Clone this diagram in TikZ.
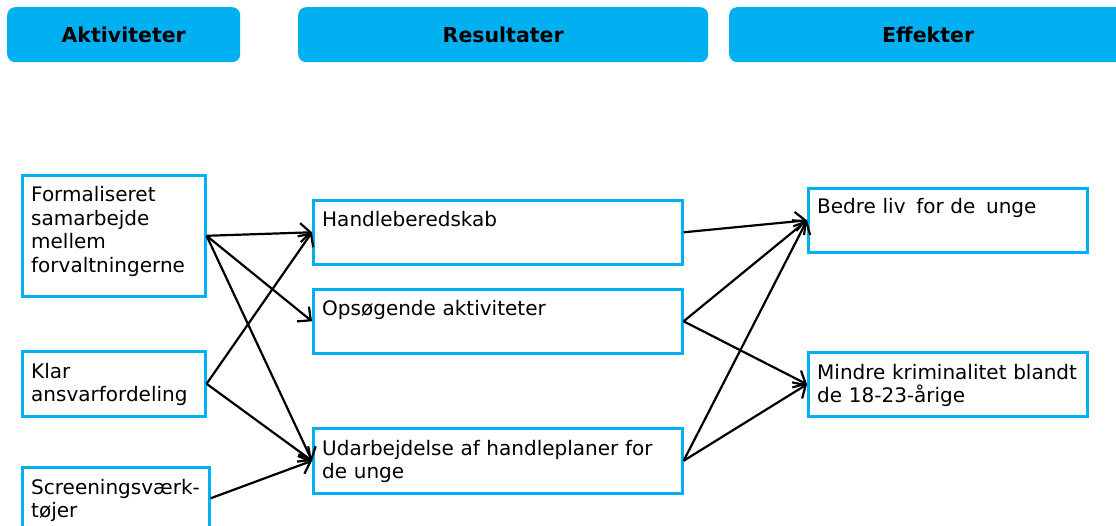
\documentclass[tikz,border=0pt]{standalone}
\usepackage{fontspec}
\setmainfont{DejaVu Sans}
\usetikzlibrary{arrows.meta}
\definecolor{hdr}{HTML}{00B0F0}
\tikzset{
  hdrbox/.style={fill=hdr, draw=none, rounded corners=8pt, anchor=north west, inner sep=0pt},
  hdrtxt/.style={inner sep=0pt, font=\fontsize{20.5}{24}\selectfont\bfseries},
  bx/.style={draw=hdr, line width=2.6pt, anchor=north west, inner sep=0pt},
  txt/.style={anchor=base west, inner sep=0pt, align=left, text width=#1,
    font=\fontsize{20}{23.5}\selectfont},
  conn/.style={draw=black, line width=2.2pt, -{Straight Barb[length=10pt,width=19pt,line width=2.2pt]}}
}
\begin{document}
\begin{tikzpicture}[x=1pt,y=-1pt]
\useasboundingbox (0,0) rectangle (1116,526);
\clip (0,0) rectangle (1116,526);
% headers
\node[hdrbox, minimum width=233pt, minimum height=55pt] (ha) at (7,7) {};
\node[hdrtxt] (hat) at (ha.center) {Aktiviteter};
\node[hdrbox, minimum width=410pt, minimum height=55pt] (hr) at (298,7) {};
\node[hdrtxt] (hrt) at (hr.center) {Resultater};
\node[hdrbox, minimum width=398pt, minimum height=55pt] (he) at (729,7) {};
\node[hdrtxt] (het) at (he.center) {Effekter};
% activities
\node[bx, minimum width=183pt, minimum height=121pt] (f) at (21,174) {};
\node[txt=175pt] (ft) at ([xshift=10pt,yshift=-28pt]f.north west) {Formaliseret\\samarbejde\\mellem\\forvaltningerne};
\node[bx, minimum width=183pt, minimum height=65pt] (k) at (21,350) {};
\node[txt=175pt] (kt) at ([xshift=10pt,yshift=-28pt]k.north west) {Klar\\ansvarfordeling};
\node[bx, minimum width=187pt, minimum height=62pt] (s) at (21,466) {};
\node[txt=180pt] (st) at ([xshift=10pt,yshift=-28pt]s.north west) {Screeningsværk-\\tøjer};
% results
\node[bx, minimum width=369pt, minimum height=64pt] (h) at (312,199) {};
\node[txt=360pt] (htx) at ([xshift=10pt,yshift=-28pt]h.north west) {Handleberedskab};
\node[bx, minimum width=369pt, minimum height=64pt] (o) at (312,288) {};
\node[txt=360pt] (otx) at ([xshift=10pt,yshift=-28pt]o.north west) {Opsøgende aktiviteter};
\node[bx, minimum width=369pt, minimum height=65pt] (u) at (312,427) {};
\node[txt=360pt] (utx) at ([xshift=10pt,yshift=-28pt]u.north west) {Udarbejdelse af handleplaner for\\de unge};
% effects
\node[bx, minimum width=279pt, minimum height=64pt] (b) at (807,187) {};
\node[txt=270pt] (btx) at ([xshift=10pt,yshift=-27pt]b.north west) {Bedre liv\hspace{4pt} for de\hspace{4pt} unge};
\node[bx, minimum width=279pt, minimum height=64pt] (m) at (807,351) {};
\node[txt=275pt] (mtx) at ([xshift=10pt,yshift=-28pt]m.north west) {Mindre kriminalitet blandt\\de 18-23-årige};
% connectors
\draw[conn] (f.east) -- (h.west);
\draw[conn] (f.east) -- (o.west);
\draw[conn] (f.east) -- (u.west);
\draw[conn] (k.east) -- (h.west);
\draw[conn] (k.east) -- (u.west);
\draw[conn] (s.east) -- (u.west);
\draw[conn] (h.east) -- (b.west);
\draw[conn] (o.east) -- (b.west);
\draw[conn] (o.east) -- (m.west);
\draw[conn] (u.east) -- (b.west);
\draw[conn] (u.east) -- (m.west);
\end{tikzpicture}
\end{document}
